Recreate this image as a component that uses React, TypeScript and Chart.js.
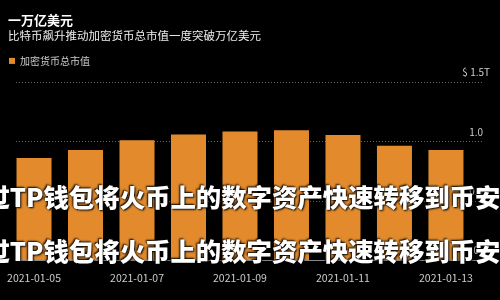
import React, { useEffect, useRef } from 'react';
import { Chart, registerables } from 'chart.js';

Chart.register(...registerables);

const categories = [
  '2021-01-05', '2021-01-06', '2021-01-07', '2021-01-08', '2021-01-09',
  '2021-01-10', '2021-01-11', '2021-01-12', '2021-01-13',
];
const marketCap = [0.864, 0.932, 1.013, 1.061, 1.087, 1.098, 1.058, 0.966, 0.931];
const yTickValues = [0, 0.5, 1.0, 1.5];
const yTickLabels = ['0', '0.5', '1.0', '$ 1.5T'];
const xTickIndices = [0, 2, 4, 6, 8];
const titleText = '一万亿美元';
const subtitleText = '比特币飙升推动加密货币总市值一度突破万亿美元';
const seriesName = '加密货币总市值';
const watermarkText = '通过TP钱包将火币上的数字资产快速转移到币安';

const FONT = "'Noto Sans CJK SC', 'Noto Sans', sans-serif";

const bgPlugin = {
  id: 'bg',
  beforeDraw(chart: any) {
    const { ctx, width, height } = chart;
    ctx.save();
    ctx.fillStyle = '#000';
    ctx.fillRect(0, 0, width, height);
    ctx.restore();
  },
};

export default function App() {
  const ref = useRef<HTMLCanvasElement | null>(null);

  useEffect(() => {
    if (!ref.current) return;
    Chart.defaults.font.family = FONT;
    const chart = new Chart(ref.current, {
      type: 'bar',
      data: {
        datasets: [
          {
            label: seriesName,
            data: categories.map((c, i) => ({ x: i, y: marketCap[i] })),
            backgroundColor: '#E38B2C',
            borderWidth: 0,
            barPercentage: 0.68,
            categoryPercentage: 1,
          },
        ],
      },
      options: {
        animation: false,
        responsive: false,
        maintainAspectRatio: false,
        layout: { padding: { left: 8, right: 18, top: 0, bottom: 13 } },
        plugins: {
          title: {
            display: true,
            text: titleText,
            align: 'start',
            color: '#ffffff',
            font: { size: 13, weight: 'bold', family: FONT },
            padding: { top: 12, bottom: 1.5 },
          },
          subtitle: {
            display: true,
            text: subtitleText,
            align: 'start',
            color: '#eeeeee',
            font: { size: 11.5, family: FONT },
            padding: { top: 0, bottom: 12 },
          },
          legend: {
            display: true,
            align: 'start',
            labels: {
              boxWidth: 6,
              boxHeight: 6,
              color: '#cccccc',
              font: { size: 10, family: FONT },
              padding: 1,
            },
          },
          tooltip: { enabled: false },
        },
        scales: {
          x: {
            type: 'linear',
            offset: false,
            min: -0.35,
            max: 8.7,
            grid: { display: false },
            border: { display: true, color: '#888888', width: 1 },
            afterBuildTicks: (s: any) => {
              s.ticks = xTickIndices.map((v) => ({ value: v }));
            },
            ticks: {
              color: '#cccccc',
              font: { size: 10.5, family: FONT },
              padding: 3,
              maxRotation: 0,
              autoSkip: false,
              callback: (v: any) => categories[v] ?? '',
            },
          },
          y: {
            type: 'linear',
            position: 'right',
            min: 0,
            max: 1.556,
            afterBuildTicks: (s: any) => {
              s.ticks = yTickValues.map((v) => ({ value: v }));
            },
            afterFit: (s: any) => {
              s.width = 0;
            },
            grid: { color: '#666666', drawTicks: false, lineWidth: 1 },
            border: { display: false, dash: [1, 2] },
            ticks: {
              mirror: true,
              crossAlign: 'center',
              labelOffset: -10,
              padding: 8,
              color: '#cccccc',
              font: { size: 10, family: FONT },
              callback: (v: any) => yTickLabels[yTickValues.indexOf(v)] ?? '',
            },
          },
          yLeft: {
            type: 'linear',
            position: 'left',
            display: true,
            grid: { display: false },
            border: { display: false },
            ticks: { display: false },
            afterFit: (s: any) => {
              s.width = 8;
            },
          },
        },
      } as any,
      plugins: [bgPlugin],
    });
    return () => chart.destroy();
  }, []);

  const wmStyle = (top: number): React.CSSProperties => ({
    position: 'absolute',
    left: -41,
    top,
    fontSize: 25.4,
    lineHeight: '26px',
    fontFamily: FONT,
    fontWeight: 900,
    color: '#ffffff',
    whiteSpace: 'nowrap',
    textShadow: '1px 1px 2px #000, -1px -1px 2px #000',
    pointerEvents: 'none',
  });

  return (
    <div
      style={{
        position: 'fixed',
        left: 0,
        top: 0,
        width: 500,
        height: 300,
        overflow: 'hidden',
        background: '#000',
      }}
    >
      <canvas ref={ref} width={500} height={300} style={{ display: 'block', width: 500, height: 300 }} />
      <div style={wmStyle(183)}>{watermarkText}</div>
      <div style={wmStyle(237)}>{watermarkText}</div>
    </div>
  );
}
